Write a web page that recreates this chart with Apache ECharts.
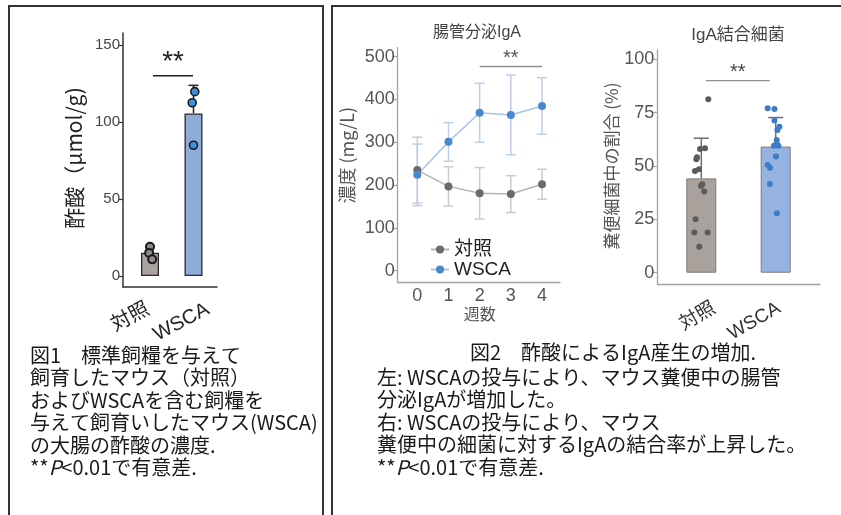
<!DOCTYPE html>
<html>
<head>
<meta charset="utf-8">
<script src="https://cdn.jsdelivr.net/npm/echarts@6/dist/echarts.min.js"></script>
<style>
  html, body { margin: 0; padding: 0; background: #fff; }
  #chart { width: 841px; height: 515px; }
</style>
</head>
<body>
<div id="chart"></div>
<script>
// ---- 図1: 大腸の酢酸濃度 ----
const acetGroups = ['対照', 'WSCA'];
const acetMean = [15.1, 105.6];
const acetSd = [4, 18.2];
const acetCtrlPoints = [19.0, 15.0, 10.8];
const acetWscaPoints = [119.7, 112.5, 84.9];
const acetCtrlJitter = [0.0, -0.02, 0.05];
const acetWscaJitter = [0.03, -0.03, 0.0];
const acetTicks = [0, 50, 100, 150];

// ---- 図2 左: 腸管分泌IgA (週ごとの平均と標準偏差) ----
const weeks = ['0', '1', '2', '3', '4'];
const igaCtrlMean = [235, 197, 181, 179, 202];
const igaCtrlSd = [77, 46, 60, 43, 35];
const igaWscaMean = [224, 301, 369, 364, 385];
const igaWscaSd = [72, 45, 69, 93, 66];

// ---- 図2 右: IgA結合細菌の割合 ----
const bindGroups = ['対照', 'WSCA'];
const bindMean = [44.2, 59.1];
const bindSd = [18.8, 13.6];
const bindCtrlPoints = [81.3, 58.3, 58.0, 54.1, 53.2, 48.5, 47.7, 41.4, 40.6, 38.0, 25.0, 18.8, 18.8, 12.2];
const bindWscaPoints = [77.1, 76.7, 71.3, 68.4, 66.9, 62.2, 60.7, 59.5, 59.5, 54.4, 50.5, 49.2, 41.6, 27.8];
// horizontal spread of individual animals, in category widths
const bindCtrlJitter = [0.094, 0.05, -0.017, -0.058, -0.067, -0.031, -0.085, 0.013, -0.004, 0.04, -0.077, -0.094, 0.085, -0.027];
const bindWscaJitter = [-0.108, -0.017, -0.017, 0.05, 0.023, 0.013, 0.013, -0.023, 0.036, 0.004, -0.108, -0.077, -0.077, 0.017];

const FONT = "'Liberation Sans', 'Noto Sans CJK JP', sans-serif";
const JP = "'Noto Sans CJK JP', sans-serif";

const chart = echarts.init(document.getElementById('chart'), null, { renderer: 'canvas' });

// error bar: vertical whisker with a cap at the top (and optionally the bottom)
function errorBar(color, lw, capHalf, both) {
  return function (params, api) {
    const x = api.value(0);
    const top = api.coord([x, api.value(2)]);
    const bot = api.coord([x, api.value(1)]);
    const st = { stroke: color, lineWidth: lw };
    const kids = [
      { type: 'line', shape: { x1: top[0], y1: top[1], x2: bot[0], y2: bot[1] }, style: st },
      { type: 'line', shape: { x1: top[0] - capHalf, y1: top[1], x2: top[0] + capHalf, y2: top[1] }, style: st }
    ];
    if (both) kids.push({ type: 'line', shape: { x1: bot[0] - capHalf, y1: bot[1], x2: bot[0] + capHalf, y2: bot[1] }, style: st });
    return { type: 'group', children: kids };
  };
}

// significance bracket with "**"
function sigBracket(color, lw, starColor, starSize, gap) {
  return function (params, api) {
    const a = api.coord([api.value(0), api.value(2)]);
    const b = api.coord([api.value(1), api.value(2)]);
    return {
      type: 'group', children: [
        { type: 'line', shape: { x1: a[0], y1: a[1], x2: b[0], y2: b[1] }, style: { stroke: color, lineWidth: lw } },
        { type: 'text', x: (a[0] + b[0]) / 2, y: a[1] - gap,
          style: { text: '**', fill: starColor, fontSize: starSize, fontFamily: FONT, align: 'center', verticalAlign: 'middle' } }
      ]
    };
  };
}

// plain L-shaped axis frame (lines only)
function frameAxes(gridIndex, color, width) {
  const base = {
    gridIndex, type: 'value', min: 0, max: 1,
    axisLine: { show: true, onZero: false, lineStyle: { color, width } },
    axisTick: { show: false }, axisLabel: { show: false }, splitLine: { show: false }
  };
  return [Object.assign({ position: 'bottom' }, base), Object.assign({ position: 'left' }, base)];
}

const hiddenVal = (gridIndex, min, max) => ({ gridIndex, type: 'value', min, max, show: false });

const fig1Frame = frameAxes(0, '#333', 1.5);
const fig2LFrame = frameAxes(3, '#a3a3a3', 1.3);
const fig2RFrame = frameAxes(5, '#a3a3a3', 1.3);

const option = {
  animation: false,
  textStyle: { fontFamily: FONT },
  grid: [
    { left: 123, top: 33, width: 94, height: 254, outerBoundsMode: 'none' },          // 0 図1 axis frame
    { left: 128.25, top: 45, width: 87, height: 231, outerBoundsMode: 'none' },       // 1 図1 data
    { left: 118, top: 250, width: 120, height: 37, outerBoundsMode: 'none' },         // 2 図1 group labels
    { left: 397.7, top: 47.7, width: 162.3, height: 235, outerBoundsMode: 'none' },   // 3 図2左 axis frame
    { left: 401.7, top: 56.7, width: 155.9, height: 214, outerBoundsMode: 'none' },   // 4 図2左 data
    { left: 657.3, top: 50, width: 162.7, height: 234, outerBoundsMode: 'none' },     // 5 図2右 axis frame
    { left: 664.1, top: 59.3, width: 148.8, height: 213.4, outerBoundsMode: 'none' }, // 6 図2右 data
    { left: 681.5, top: 250, width: 130, height: 34, outerBoundsMode: 'none' }        // 7 図2右 group labels
  ],
  xAxis: [
    fig1Frame[0],                                                                       // 0
    { gridIndex: 1, type: 'category', data: acetGroups, show: false },                  // 1
    hiddenVal(1, -0.5, 1.5),                                                            // 2
    { gridIndex: 2, type: 'category', data: acetGroups, boundaryGap: true,              // 3
      axisLine: { show: false }, axisTick: { show: false }, splitLine: { show: false },
      axisLabel: { interval: 0, rotate: 28, margin: 21, fontSize: 20, color: '#222', fontFamily: FONT } },
    fig2LFrame[0],                                                                      // 4
    { gridIndex: 4, type: 'category', data: weeks, boundaryGap: true, offset: 12,       // 5
      axisLine: { show: false, onZero: false }, axisTick: { show: false }, splitLine: { show: false },
      axisLabel: { interval: 0, margin: 4, fontSize: 18, color: '#555' },
      name: '週数', nameLocation: 'middle', nameGap: 22,
      nameTextStyle: { fontSize: 16, color: '#555', fontFamily: JP } },
    hiddenVal(4, -0.5, 4.5),                                                            // 6
    fig2RFrame[0],                                                                      // 7
    { gridIndex: 6, type: 'category', data: bindGroups, show: false },                  // 8
    hiddenVal(6, -0.5, 1.5),                                                            // 9
    { gridIndex: 7, type: 'category', data: bindGroups, boundaryGap: true,              // 10
      axisLine: { show: false }, axisTick: { show: false }, splitLine: { show: false },
      axisLabel: { interval: 0, rotate: 30, margin: 23, fontSize: 19, color: '#333', fontFamily: FONT } }
  ],
  yAxis: [
    fig1Frame[1],                                                                       // 0
    { gridIndex: 1, type: 'value', position: 'left', min: acetTicks[0], max: acetTicks[acetTicks.length - 1], interval: 50, offset: 5.25,
      axisLine: { show: false, onZero: false }, splitLine: { show: false },
      axisTick: { show: true, length: 4, lineStyle: { color: '#333', width: 1.2 } },
      axisLabel: { margin: 3, fontSize: 15, color: '#444' },
      name: '酢酸（μmol/g)', nameLocation: 'middle', nameRotate: 90, nameGap: 38,
      nameTextStyle: { fontSize: 21, color: '#222', fontFamily: JP, padding: [0, 0, 0, 5] } },  // 1
    hiddenVal(2, 0, 1),                                                                 // 2
    fig2LFrame[1],                                                                      // 3
    { gridIndex: 4, type: 'value', position: 'left', min: 0, max: 500, interval: 100, offset: 4,
      axisLine: { show: false, onZero: false }, splitLine: { show: false },
      axisTick: { show: true, length: 4, lineStyle: { color: '#a3a3a3', width: 1.2 } },
      axisLabel: { margin: 3, fontSize: 18, color: '#555' },
      name: '濃度 (mg/L)', nameLocation: 'middle', nameRotate: 90, nameGap: 42,
      nameTextStyle: { fontSize: 18, color: '#555', fontFamily: JP, padding: [0, 0, 0, 17] } },  // 4
    fig2RFrame[1],                                                                      // 5
    { gridIndex: 6, type: 'value', position: 'left', min: 0, max: 100, interval: 25, offset: 6.8,
      axisLine: { show: false, onZero: false }, splitLine: { show: false },
      axisTick: { show: true, length: 4, lineStyle: { color: '#a3a3a3', width: 1.2 } },
      axisLabel: { margin: 3, fontSize: 18, color: '#555' },
      name: '糞便細菌中の割合 (%)', nameLocation: 'middle', nameRotate: 90, nameGap: 37,
      nameTextStyle: { fontSize: 17, color: '#555', fontFamily: JP } },               // 6
    hiddenVal(7, 0, 1)                                                                  // 7
  ],
  legend: {
    data: ['対照', 'WSCA'], orient: 'vertical', left: 430, top: 240, itemGap: 1,
    itemWidth: 18, itemHeight: 10, padding: 0, selectedMode: false,
    textStyle: { fontSize: 19, color: '#222', fontFamily: FONT }
  },
  series: [
    // 図1
    { type: 'custom', xAxisIndex: 2, yAxisIndex: 1, silent: true, z: 1,
      renderItem: errorBar('#222', 1.5, 5, false),
      data: acetMean.map((m, i) => [i, m, m + acetSd[i]]) },
    { type: 'bar', xAxisIndex: 1, yAxisIndex: 1, silent: true, barWidth: 18, z: 2,
      data: acetMean.map((m, i) => ({ value: m, itemStyle: {
        color: i === 0 ? '#aaa39f' : '#8fabda', borderColor: '#2b2b2b', borderWidth: 1.3 } })) },
    { type: 'scatter', xAxisIndex: 2, yAxisIndex: 1, silent: true, z: 3, symbolSize: 8,
      itemStyle: { color: '#8c8c8c', borderColor: '#1a1a1a', borderWidth: 2, opacity: 1 },
      data: acetCtrlPoints.map((v, k) => [0 + acetCtrlJitter[k], v]) },
    { type: 'scatter', xAxisIndex: 2, yAxisIndex: 1, silent: true, z: 3, symbolSize: 8,
      itemStyle: { color: '#3c90dc', borderColor: '#1a1a1a', borderWidth: 1.6, opacity: 1 },
      data: acetWscaPoints.map((v, k) => [1 + acetWscaJitter[k], v]) },
    { type: 'custom', xAxisIndex: 2, yAxisIndex: 1, silent: true, z: 3,
      renderItem: sigBracket('#222', 1.5, '#222', 28, 14),
      data: [[0.07, 0.99, 130]] },

    // 図2 左
    { type: 'custom', xAxisIndex: 6, yAxisIndex: 4, silent: true, z: 1,
      renderItem: errorBar('#cbcbcb', 1.5, 5, true),
      data: igaCtrlMean.map((m, i) => [i, m - igaCtrlSd[i], m + igaCtrlSd[i]]) },
    { type: 'custom', xAxisIndex: 6, yAxisIndex: 4, silent: true, z: 1,
      renderItem: errorBar('#bccfe9', 1.5, 5, true),
      data: igaWscaMean.map((m, i) => [i, m - igaWscaSd[i], m + igaWscaSd[i]]) },
    { name: '対照', type: 'line', xAxisIndex: 6, yAxisIndex: 4, silent: true, z: 3,
      symbol: 'circle', symbolSize: 8,
      lineStyle: { color: '#b4b4b4', width: 1.5 }, itemStyle: { color: '#6b6b6b' },
      data: igaCtrlMean.map((m, i) => [i, m]) },
    { name: 'WSCA', type: 'line', xAxisIndex: 6, yAxisIndex: 4, silent: true, z: 3,
      symbol: 'circle', symbolSize: 8,
      lineStyle: { color: '#a9c4e6', width: 1.5 }, itemStyle: { color: '#4a88cc' },
      data: igaWscaMean.map((m, i) => [i, m]) },
    { type: 'custom', xAxisIndex: 6, yAxisIndex: 4, silent: true, z: 3,
      renderItem: sigBracket('#8f8f8f', 1.5, '#555', 20, 8),
      data: [[2, 4, 477]] },

    // 図2 右
    { type: 'custom', xAxisIndex: 9, yAxisIndex: 6, silent: true, z: 1,
      renderItem: errorBar('#6e6e6e', 1.5, 7.5, false),
      data: bindMean.map((m, i) => [i, m, m + bindSd[i]]) },
    { type: 'bar', xAxisIndex: 8, yAxisIndex: 6, silent: true, barWidth: 30, z: 2,
      data: bindMean.map((m, i) => ({ value: m, itemStyle: {
        color: i === 0 ? '#a8a19c' : '#96b2e0', borderColor: '#7c7c7c', borderWidth: 1 } })) },
    { type: 'scatter', xAxisIndex: 9, yAxisIndex: 6, silent: true, z: 3, symbolSize: 6,
      itemStyle: { color: '#5b5b5b', opacity: 1 },
      data: bindCtrlPoints.map((v, k) => [0 + bindCtrlJitter[k], v]) },
    { type: 'scatter', xAxisIndex: 9, yAxisIndex: 6, silent: true, z: 3, symbolSize: 6,
      itemStyle: { color: '#3d7dc6', opacity: 1 },
      data: bindWscaPoints.map((v, k) => [1 + bindWscaJitter[k], v]) },
    { type: 'custom', xAxisIndex: 9, yAxisIndex: 6, silent: true, z: 3,
      renderItem: sigBracket('#8f8f8f', 1.3, '#444', 20, 8),
      data: [[0.06, 0.92, 90]] }
  ],
  graphic: [
    // panel frames
    { type: 'rect', silent: true, shape: { x: 9, y: 6, width: 314, height: 520 },
      style: { fill: 'none', stroke: '#333', lineWidth: 2 } },
    { type: 'rect', silent: true, shape: { x: 332, y: 6, width: 520, height: 520 },
      style: { fill: 'none', stroke: '#333', lineWidth: 2 } },
    // panel titles
    { type: 'text', silent: true, x: 477, y: 33,
      style: { text: '腸管分泌IgA', fontSize: 16, fontFamily: FONT, fill: '#444', align: 'center', verticalAlign: 'middle' } },
    { type: 'text', silent: true, x: 738, y: 35,
      style: { text: 'IgA結合細菌', fontSize: 17, fontFamily: FONT, fill: '#444', align: 'center', verticalAlign: 'middle' } },
    // captions
    { type: 'text', silent: true, x: 30, y: 344,
      style: {
        text: '図1　標準飼糧を与えて\n飼育したマウス（対照）\nおよびWSCAを含む飼糧を\n与えて飼育いしたマウス(WSCA)\nの大腸の酢酸の濃度.\n**{i|P}<0.01で有意差.',
        fontSize: 20, fontFamily: JP, lineHeight: 22.5, fill: '#1a1a1a',
        rich: { i: { fontSize: 20, fontFamily: JP, fontStyle: 'italic', lineHeight: 22.5, fill: '#1a1a1a' } }
      } },
    { type: 'text', silent: true, x: 613, y: 341,
      style: { text: '図2　酢酸によるIgA産生の増加.', fontSize: 20, fontFamily: JP, lineHeight: 22.5, fill: '#1a1a1a', align: 'center' } },
    { type: 'text', silent: true, x: 377, y: 366,
      style: {
        text: '左: WSCAの投与により、マウス糞便中の腸管\n分泌IgAが増加した。\n右: WSCAの投与により、マウス\n糞便中の細菌に対するIgAの結合率が上昇した。\n**{i|P}<0.01で有意差.',
        fontSize: 20, fontFamily: JP, lineHeight: 22.5, fill: '#1a1a1a',
        rich: { i: { fontSize: 20, fontFamily: JP, fontStyle: 'italic', lineHeight: 22.5, fill: '#1a1a1a' } }
      } }
  ]
};

chart.setOption(option);
</script>
</body>
</html>
